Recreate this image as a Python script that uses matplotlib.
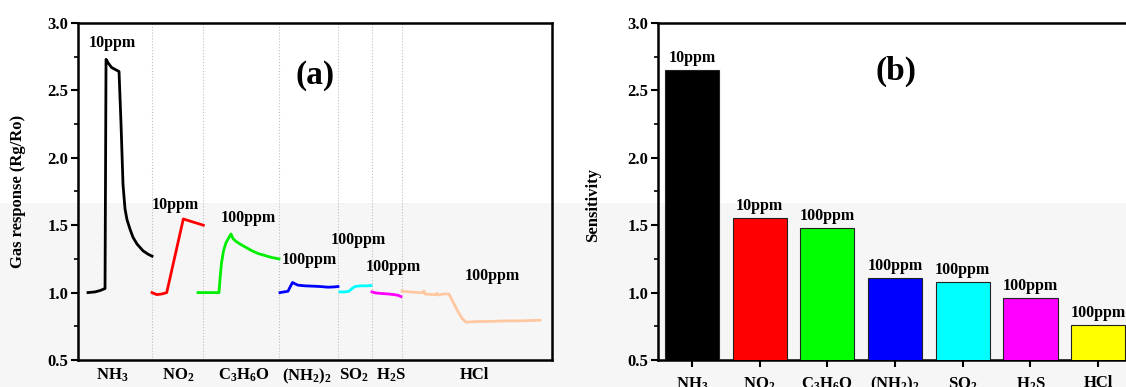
import numpy as np
import matplotlib as mpl
import matplotlib.pyplot as plt
from matplotlib.patches import Rectangle
from matplotlib.ticker import MultipleLocator

mpl.rcParams['font.family'] = 'Liberation Serif'
mpl.rcParams['font.weight'] = 'bold'
mpl.rcParams['axes.labelweight'] = 'bold'
mpl.rcParams['mathtext.fontset'] = 'custom'
mpl.rcParams['mathtext.rm'] = 'Liberation Serif:bold'
mpl.rcParams['mathtext.it'] = 'Liberation Serif:bold'
mpl.rcParams['mathtext.bf'] = 'Liberation Serif:bold'

# gases, colours and concentrations
gases = ['NH$_3$', 'NO$_2$', 'C$_3$H$_6$O', '(NH$_2$)$_2$', 'SO$_2$', 'H$_2$S', 'HCl']
colors = ['#000000', '#FF0000', '#00FF00', '#0000FF', '#00FFFF', '#FF00FF', '#FFFF00']
line_colors = ['#000000', '#FF0000', '#00EE00', '#0000FF', '#00FFFF', '#FF00FF', '#FFC8A0']
conc = ['10ppm', '10ppm', '100ppm', '100ppm', '100ppm', '100ppm', '100ppm']

# (b) sensitivity per gas
sensitivity = [2.65, 1.55, 1.48, 1.11, 1.08, 0.96, 0.76]

# (a) transient response, time (s) and Rg/Ro for each gas
t_nh3 = [100, 170, 220, 270, 280, 305, 335, 410, 430, 450, 470, 490, 520, 550, 590, 650, 700, 740]
r_nh3 = [1.00, 1.005, 1.015, 1.03, 2.73, 2.70, 2.67, 2.64, 2.25, 1.80, 1.62, 1.54, 1.47, 1.41, 1.36, 1.31, 1.285, 1.27]
t_no2 = [740, 787, 840, 887, 1053, 1253]
r_no2 = [1.00, 0.985, 0.99, 1.00, 1.546, 1.50]
t_ace = [1200, 1410, 1420, 1435, 1455, 1480, 1510, 1530, 1550, 1580, 1620, 1680, 1740, 1800, 1870, 1940, 2010]
r_ace = [1.00, 1.00, 1.10, 1.22, 1.31, 1.37, 1.41, 1.435, 1.40, 1.38, 1.36, 1.335, 1.31, 1.29, 1.275, 1.26, 1.25]
t_hyd = [2020, 2060, 2100, 2120, 2145, 2170, 2200, 2270, 2340, 2420, 2500, 2560, 2600]
r_hyd = [1.00, 1.005, 1.01, 1.04, 1.075, 1.065, 1.055, 1.05, 1.048, 1.045, 1.04, 1.042, 1.045]
t_so2 = [2620, 2670, 2710, 2740, 2770, 2820, 2880, 2930]
r_so2 = [1.005, 1.005, 1.01, 1.03, 1.045, 1.05, 1.05, 1.052]
t_h2s = [2940, 2980, 3040, 3100, 3160, 3200, 3230]
r_h2s = [1.005, 0.997, 0.993, 0.99, 0.985, 0.98, 0.97]
t_hcl = [3240, 3320, 3400, 3450, 3460, 3470, 3540, 3580, 3590, 3600, 3660, 3710, 3750, 3800, 3840,
         3880, 3970, 4120, 4270, 4420, 4620]
r_hcl = [1.01, 1.005, 1.00, 1.00, 1.012, 0.99, 0.985, 0.985, 0.995, 0.982, 0.99, 0.99, 0.93, 0.86, 0.81,
         0.78, 0.785, 0.786, 0.79, 0.79, 0.795]

traces = [(t_nh3, r_nh3), (t_no2, r_no2), (t_ace, r_ace), (t_hyd, r_hyd),
          (t_so2, r_so2), (t_h2s, r_h2s), (t_hcl, r_hcl)]
separators = [740, 1250, 2010, 2600, 2940, 3240]
label_t = [340, 1000, 1660, 2290, 2760, 3130, 3960]
conc_pos = [(340, 2.85), (970, 1.652), (1700, 1.556), (2310, 1.244), (2800, 1.387), (3150, 1.193), (4140, 1.126)]

fig = plt.figure(figsize=(11.26, 3.87), dpi=100)
fig.add_artist(Rectangle((0, 0), 1, 0.4755, transform=fig.transFigure,
                         facecolor='#F6F6F6', edgecolor='none', zorder=-1))

ax1 = fig.add_axes([0.0693, 0.0698, 0.4209, 0.8708])
ax2 = fig.add_axes([0.5844, 0.0698, 0.4210, 0.8708])


def style(ax):
    ax.patch.set_visible(False)
    for s in ax.spines.values():
        s.set_linewidth(1.8)
    ax.set_ylim(0.5, 3.0)
    ax.yaxis.set_major_locator(MultipleLocator(0.5))
    ax.yaxis.set_minor_locator(MultipleLocator(0.25))
    ax.yaxis.set_major_formatter(mpl.ticker.FormatStrFormatter('%.1f'))
    ax.tick_params(axis='y', which='major', direction='out', length=5, width=1.5, labelsize=12, pad=2)
    ax.tick_params(axis='y', which='minor', direction='out', length=3, width=1.2)
    ax.tick_params(top=False, right=False, which='both')


# (a) transient response
style(ax1)
for (t, r), c in zip(traces, line_colors):
    ax1.plot(t, r, color=c, lw=2.0, zorder=3)
for s in separators:
    ax1.axvline(s, color='#C0C0C0', lw=0.8, ls=':', zorder=1)
for (x, y), txt in zip(conc_pos, conc):
    ax1.text(x, y, txt, ha='center', va='center', fontsize=11.5)
ax1.set_xlim(0, 4740)
ax1.set_xticks(label_t)
ax1.set_xticklabels(gases)
ax1.tick_params(axis='x', length=0, labelsize=12, pad=5)
ax1.set_ylabel('Gas response (Rg/Ro)', fontsize=12)
ax1.yaxis.set_label_coords(-0.11, 0.5)
ax1.text(0.5, 0.845, '(a)', transform=ax1.transAxes, ha='center', va='center', fontsize=24)

# (b) sensitivity bars
style(ax2)
x = np.arange(len(gases))
bars = ax2.bar(x, sensitivity, width=0.8, color=colors, edgecolor='#222222', linewidth=0.8, zorder=3)
for b, txt in zip(bars, conc):
    ax2.annotate(txt, (b.get_x() + b.get_width() / 2, b.get_height()), xytext=(0, 3),
                 textcoords='offset points', ha='center', va='bottom', fontsize=11.5)
ax2.set_xlim(-0.5, 6.5)
ax2.set_xticks(x)
ax2.set_xticklabels(gases)
ax2.tick_params(axis='x', direction='out', length=5, width=1.5, labelsize=12, pad=6)
ax2.set_ylabel('Sensitivity', fontsize=12)
ax2.yaxis.set_label_coords(-0.12, 0.46)
ax2.text(0.502, 0.855, '(b)', transform=ax2.transAxes, ha='center', va='center', fontsize=24)

fig.savefig('out.png', dpi=100)
